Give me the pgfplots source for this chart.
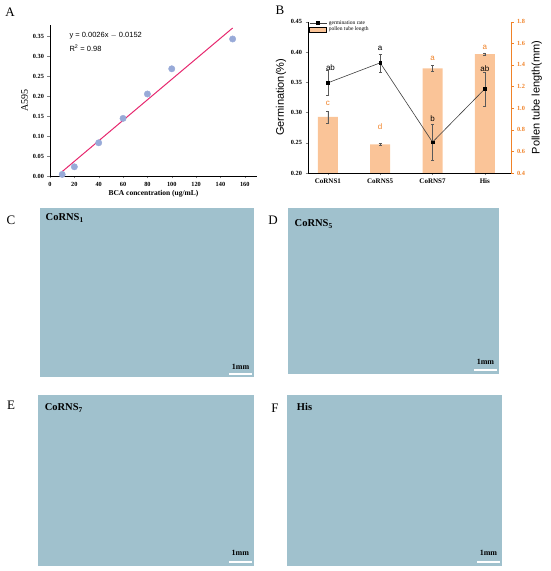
\documentclass[border=0pt]{standalone}
\usepackage{pgfplots}
\pgfplotsset{compat=1.18}
\usepackage{fontspec}
\setmainfont{Liberation Serif}
\newfontfamily\arial{Liberation Sans}
\definecolor{photoblue}{RGB}{160,193,205}
\definecolor{barorange}{RGB}{250,196,152}
\definecolor{tickorange}{RGB}{240,130,40}
\definecolor{fitpink}{RGB}{230,40,110}
\definecolor{dotblue}{RGB}{152,170,216}
\pgfplotsset{
  photo/.style={scale only axis, hide axis, xmin=0, xmax=1, ymin=0, ymax=1, clip=false},
}
\begin{document}
\begin{tikzpicture}
\path[use as bounding box] (0,0) rectangle (550pt,571pt);
% ---------------- Panel A
\begin{axis}[
  at={(50pt,395pt)}, anchor=south west, width=207pt, height=151pt, scale only axis,
  xmin=0, xmax=170, ymin=0, ymax=0.3775,
  axis x line*=bottom, axis y line*=left, axis line style={-},
  tick align=outside, major tick length=2.5pt,
  xtick={0,20,...,160}, ytick={0,0.05,...,0.35},
  /pgf/number format/assume math mode=true,
  yticklabel style={/pgf/number format/.cd, fixed, fixed zerofill, precision=2},
  tick label style={font=\fontsize{6.3}{7}\selectfont\bfseries},
  xlabel={\bfseries BCA concentration (ug/mL)},
  xlabel style={font=\fontsize{7.5}{8}\selectfont, yshift=3pt},
  ylabel={A595}, ylabel style={font=\fontsize{10}{10}\selectfont, yshift=-2pt},
  clip=false,
]
\addplot[fitpink, line width=1pt] coordinates {(10,0.011) (150,0.370)};
\addplot[only marks, color=dotblue, mark=*, mark size=3.2pt, mark options={solid, fill=dotblue, draw=dotblue}]
  coordinates {(10,0.004) (20,0.023) (40,0.083) (60,0.144) (80,0.205) (100,0.268) (150,0.3425)};
\end{axis}
\node[anchor=west, font=\arial\fontsize{7.5}{8}\selectfont] at (66pt,535pt) {y = 0.0026x $-$ 0.0152};
\node[anchor=west, font=\arial\fontsize{7.5}{8}\selectfont] at (66pt,523pt) {R\textsuperscript{2} = 0.98};
\node[font=\fontsize{13}{13}\selectfont] at (10pt,558.5pt) {A};
% ---------------- Panel B : bars (right axis)
\begin{axis}[
  at={(308pt,398pt)}, anchor=south west, width=203pt, height=151.3pt, scale only axis,
  xmin=-0.38, xmax=3.5, ymin=0.4, ymax=1.8,
  axis x line=none, axis y line*=right, axis line style={-, tickorange},
  y tick style={tickorange}, tick align=outside, major tick length=2.5pt,
  ytick={0.4,0.6,...,1.8},
  /pgf/number format/assume math mode=true,
  yticklabel style={/pgf/number format/.cd, fixed, fixed zerofill, precision=1},
  tick label style={font=\fontsize{6.3}{7}\selectfont\bfseries, text=tickorange},
  ylabel={Pollen tube length(mm)},
  ylabel style={font=\arial\fontsize{11}{11}\selectfont},
  ybar, bar width=20pt, clip=false,
]
\addplot[fill=barorange, draw=none,
  error bars/.cd, y dir=both, y explicit, error bar style={gray!70!black, line width=0.4pt},
  error mark options={rotate=90, mark size=1.5pt}]
  coordinates {(0,0.92) +- (0,0.055) (1,0.665) +- (0,0.012) (2,1.369) +- (0,0.025) (3,1.501) +- (0,0.012)};
\end{axis}
% ---------------- Panel B : germination (left axis)
\begin{axis}[
  at={(308pt,398pt)}, anchor=south west, width=203pt, height=151.3pt, scale only axis,
  xmin=-0.38, xmax=3.5, ymin=0.2, ymax=0.45,
  axis x line*=bottom, axis y line*=left, axis line style={-},
  tick align=outside, major tick length=2.5pt,
  xtick={0,1,2,3}, xticklabels={CoRNS1,CoRNS5,CoRNS7,His},
  ytick={0.20,0.25,...,0.45},
  /pgf/number format/assume math mode=true,
  yticklabel style={/pgf/number format/.cd, fixed, fixed zerofill, precision=2},
  tick label style={font=\fontsize{6.3}{7}\selectfont\bfseries},
  xticklabel style={font=\fontsize{7}{7}\selectfont\bfseries},
  ylabel={Germination(\%)},
  ylabel style={font=\arial\fontsize{11}{11}\selectfont, yshift=-2pt},
  legend style={at={(0.0,1.03)}, anchor=north west, draw=none, fill=none,
    font=\fontsize{5.5}{6}\selectfont, row sep=-2.5pt, inner sep=1pt},
  legend cell align=left,
  clip=false,
]
\addplot[black!75, line width=0.6pt, mark=square*, mark size=1.3pt, mark options={fill=black, draw=black},
  error bars/.cd, y dir=both, y explicit, error bar style={gray!70!black, line width=0.4pt},
  error mark options={rotate=90, mark size=1.5pt}]
  coordinates {(0,0.349) +- (0,0.021) (1,0.382) +- (0,0.015) (2,0.251) +- (0,0.030) (3,0.339) +- (0,0.028)};
\addlegendentry{germination rate}
\addlegendimage{area legend, fill=barorange, draw=none}
\addlegendentry{pollen tube length}
\node[font=\arial\fontsize{8}{8}\selectfont] at (axis cs:0.05,0.374) {ab};
\node[font=\arial\fontsize{8}{8}\selectfont] at (axis cs:1,0.406) {a};
\node[font=\arial\fontsize{8}{8}\selectfont] at (axis cs:2,0.289) {b};
\node[font=\arial\fontsize{8}{8}\selectfont] at (axis cs:3,0.373) {ab};
\node[font=\arial\fontsize{8}{8}\selectfont, text=tickorange] at (axis cs:0,0.3147) {c};
\node[font=\arial\fontsize{8}{8}\selectfont, text=tickorange] at (axis cs:1,0.2763) {d};
\node[font=\arial\fontsize{8}{8}\selectfont, text=tickorange] at (axis cs:2,0.3895) {a};
\node[font=\arial\fontsize{8}{8}\selectfont, text=tickorange] at (axis cs:3,0.407) {a};
\end{axis}
\node[font=\fontsize{13}{13}\selectfont] at (280pt,561pt) {B};
% ---------------- Photo panels
\begin{axis}[photo, at={(40pt,194pt)}, anchor=south west, width=214pt, height=169pt]
\fill[photoblue] (axis cs:0,0) rectangle (axis cs:1,1);
\addplot[white, line width=1.6pt] coordinates {(0.883,0.018) (0.991,0.018)};
\node[font=\fontsize{8}{8}\selectfont\bfseries] at (axis cs:0.937,0.06) {1mm};
\node[anchor=west, font=\fontsize{10.5}{11}\selectfont\bfseries] at (axis cs:0.01,0.94) {CoRNS\textsubscript{1}};
\end{axis}
\node[font=\fontsize{13}{13}\selectfont] at (11pt,351pt) {C};
\begin{axis}[photo, at={(288pt,197pt)}, anchor=south west, width=211pt, height=166pt]
\fill[photoblue] (axis cs:0,0) rectangle (axis cs:1,1);
\addplot[white, line width=1.6pt] coordinates {(0.882,0.024) (0.99,0.024)};
\node[font=\fontsize{8}{8}\selectfont\bfseries] at (axis cs:0.936,0.072) {1mm};
\node[anchor=west, font=\fontsize{10.5}{11}\selectfont\bfseries] at (axis cs:0.015,0.904) {CoRNS\textsubscript{5}};
\end{axis}
\node[font=\fontsize{13}{13}\selectfont] at (273pt,351pt) {D};
\begin{axis}[photo, at={(38pt,5pt)}, anchor=south west, width=216pt, height=171pt]
\fill[photoblue] (axis cs:0,0) rectangle (axis cs:1,1);
\addplot[white, line width=1.6pt] coordinates {(0.884,0.023) (0.991,0.023)};
\node[font=\fontsize{8}{8}\selectfont\bfseries] at (axis cs:0.937,0.076) {1mm};
\node[anchor=west, font=\fontsize{10.5}{11}\selectfont\bfseries] at (axis cs:0.015,0.924) {CoRNS\textsubscript{7}};
\end{axis}
\node[font=\fontsize{13}{13}\selectfont] at (11pt,166pt) {E};
\begin{axis}[photo, at={(287pt,5pt)}, anchor=south west, width=215pt, height=171pt]
\fill[photoblue] (axis cs:0,0) rectangle (axis cs:1,1);
\addplot[white, line width=1.6pt] coordinates {(0.884,0.023) (0.99,0.023)};
\node[font=\fontsize{8}{8}\selectfont\bfseries] at (axis cs:0.937,0.076) {1mm};
\node[anchor=west, font=\fontsize{10.5}{11}\selectfont\bfseries] at (axis cs:0.03,0.93) {His};
\end{axis}
\node[font=\fontsize{13}{13}\selectfont] at (275pt,163pt) {F};
\end{tikzpicture}
\end{document}
